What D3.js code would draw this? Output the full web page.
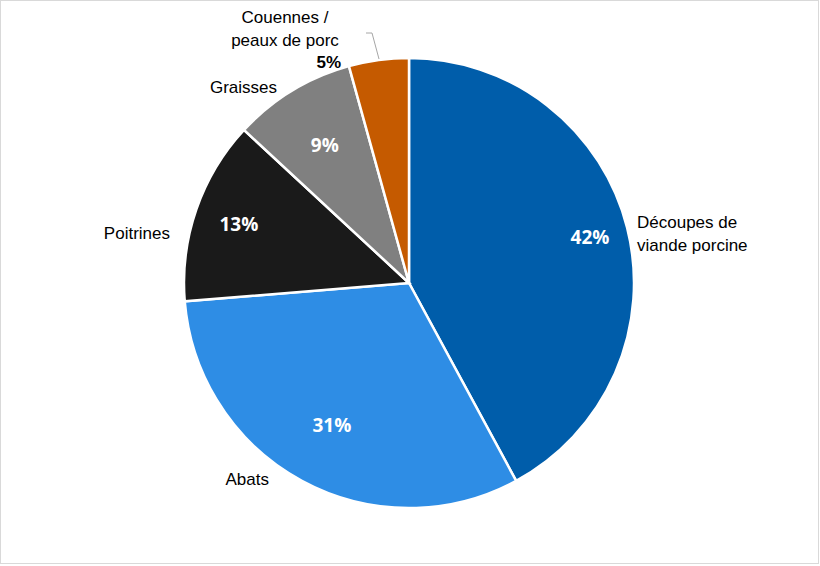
<!DOCTYPE html>
<html><head><meta charset="utf-8">
<script src="https://cdn.jsdelivr.net/npm/d3@7"></script>
<style>body{margin:0;background:#fff}</style></head>
<body><svg id="c" width="820" height="566"></svg>
<script>
const categories = ["Découpes de viande porcine","Abats","Poitrines","Graisses","Couennes / peaux de porc"];
const values = [42.1, 31.6, 13.2, 8.8, 4.3];
const pctLabels = ["42%","31%","13%","9%","5%"];
const colors = ["#005DAA","#2E8DE5","#1A1A1A","#808080","#C55A00"];

const svg = d3.select("#c");
svg.append("rect").attr("x",0.5).attr("y",0.5).attr("width",818).attr("height",563)
  .attr("fill","#fff").attr("stroke","#D9D9D9");
const cx=409, cy=283, R=225;
const g = svg.append("g").attr("transform",`translate(${cx},${cy})`);
const pie = d3.pie().sort(null).value(d=>d)(values);
const arc = d3.arc().innerRadius(0).outerRadius(R);
g.selectAll("path").data(pie).enter().append("path")
  .attr("d",arc).attr("fill",(d,i)=>colors[i]).attr("stroke","#fff").attr("stroke-width",2.5);

// inner percent labels (radius fraction per slice)
const inR=[0.83,0.72,0.8,0.72];
const mid=d=>(d.startAngle+d.endAngle)/2;
pie.slice(0,4).forEach((d,i)=>{
  const a=mid(d), r=R*inR[i];
  g.append("text").attr("x",Math.sin(a)*r).attr("y",-Math.cos(a)*r+7)
   .attr("text-anchor","middle").attr("font-family","Open Sans").attr("font-weight","bold")
   .attr("font-size",19).attr("fill","#fff").text(pctLabels[i]);
});
const font="Liberation Sans, Arial";
function lab(lines,x,y,anchor){
  const t=svg.append("text").attr("font-family",font).attr("font-size",17).attr("fill","#000").attr("text-anchor",anchor);
  lines.forEach((l,k)=>t.append("tspan").attr("x",x).attr("y",y+k*23).text(l));
}
lab(["Découpes de","viande porcine"],637,228,"start");
lab(["Abats"],269,485,"end");
lab(["Poitrines"],170,239,"end");
lab(["Graisses"],277,93,"end");
lab(["Couennes /","peaux de porc"],285,23,"middle");
svg.append("text").attr("x",341).attr("y",68).attr("text-anchor","end").attr("font-family",font)
  .attr("font-weight","bold").attr("font-size",17).text(pctLabels[4]);
svg.append("path").attr("d","M366,33 L372,33 L379,59").attr("fill","none").attr("stroke","#A6A6A6");
</script></body></html>
